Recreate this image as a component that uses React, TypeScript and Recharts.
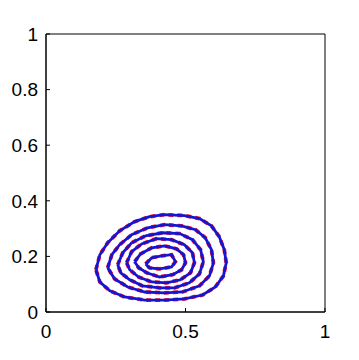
import React from "react";
import {
  ComposedChart,
  Line,
  XAxis,
  YAxis,
  ReferenceArea,
} from "recharts";

type Pt = { x: number; y: number };

// contour rings, outermost first
const ring1: Pt[] = [
  { x: 0.179, y: 0.152 }, { x: 0.193, y: 0.206 }, { x: 0.221, y: 0.249 },
  { x: 0.264, y: 0.292 }, { x: 0.318, y: 0.325 }, { x: 0.371, y: 0.343 },
  { x: 0.425, y: 0.35 }, { x: 0.496, y: 0.347 }, { x: 0.55, y: 0.336 },
  { x: 0.593, y: 0.31 }, { x: 0.621, y: 0.271 }, { x: 0.639, y: 0.224 },
  { x: 0.646, y: 0.177 }, { x: 0.636, y: 0.13 }, { x: 0.607, y: 0.09 },
  { x: 0.561, y: 0.061 }, { x: 0.496, y: 0.047 }, { x: 0.425, y: 0.043 },
  { x: 0.354, y: 0.043 }, { x: 0.282, y: 0.054 }, { x: 0.229, y: 0.076 },
  { x: 0.193, y: 0.108 }, { x: 0.179, y: 0.152 },
];

const ring2: Pt[] = [
  { x: 0.221, y: 0.159 }, { x: 0.236, y: 0.206 }, { x: 0.264, y: 0.242 },
  { x: 0.307, y: 0.278 }, { x: 0.364, y: 0.303 }, { x: 0.425, y: 0.314 },
  { x: 0.486, y: 0.31 }, { x: 0.536, y: 0.296 }, { x: 0.571, y: 0.267 },
  { x: 0.593, y: 0.224 }, { x: 0.6, y: 0.177 }, { x: 0.586, y: 0.13 },
  { x: 0.55, y: 0.094 }, { x: 0.489, y: 0.072 }, { x: 0.425, y: 0.069 },
  { x: 0.354, y: 0.072 }, { x: 0.293, y: 0.09 }, { x: 0.246, y: 0.119 },
  { x: 0.221, y: 0.159 },
];

const ring3: Pt[] = [
  { x: 0.257, y: 0.17 }, { x: 0.275, y: 0.213 }, { x: 0.307, y: 0.249 },
  { x: 0.357, y: 0.274 }, { x: 0.418, y: 0.285 }, { x: 0.479, y: 0.282 },
  { x: 0.525, y: 0.26 }, { x: 0.554, y: 0.224 }, { x: 0.564, y: 0.181 },
  { x: 0.55, y: 0.137 }, { x: 0.514, y: 0.105 }, { x: 0.461, y: 0.087 },
  { x: 0.407, y: 0.087 }, { x: 0.346, y: 0.094 }, { x: 0.3, y: 0.116 },
  { x: 0.268, y: 0.141 }, { x: 0.257, y: 0.17 },
];

const ring4: Pt[] = [
  { x: 0.289, y: 0.177 }, { x: 0.307, y: 0.217 }, { x: 0.343, y: 0.245 },
  { x: 0.396, y: 0.264 }, { x: 0.45, y: 0.26 }, { x: 0.496, y: 0.242 },
  { x: 0.525, y: 0.213 }, { x: 0.532, y: 0.177 }, { x: 0.518, y: 0.141 },
  { x: 0.482, y: 0.116 }, { x: 0.432, y: 0.105 }, { x: 0.379, y: 0.108 },
  { x: 0.332, y: 0.126 }, { x: 0.3, y: 0.152 }, { x: 0.289, y: 0.177 },
];

const ring5: Pt[] = [
  { x: 0.318, y: 0.181 }, { x: 0.339, y: 0.209 }, { x: 0.379, y: 0.231 },
  { x: 0.425, y: 0.238 }, { x: 0.468, y: 0.227 }, { x: 0.493, y: 0.206 },
  { x: 0.5, y: 0.177 }, { x: 0.486, y: 0.152 }, { x: 0.454, y: 0.134 },
  { x: 0.407, y: 0.126 }, { x: 0.361, y: 0.141 }, { x: 0.332, y: 0.159 },
  { x: 0.318, y: 0.181 },
];

const ring6: Pt[] = [
  { x: 0.357, y: 0.173 }, { x: 0.379, y: 0.195 }, { x: 0.414, y: 0.202 },
  { x: 0.45, y: 0.206 }, { x: 0.464, y: 0.181 }, { x: 0.45, y: 0.162 },
  { x: 0.407, y: 0.155 }, { x: 0.371, y: 0.159 }, { x: 0.357, y: 0.173 },
];

const rings = [ring1, ring2, ring3, ring4, ring5, ring6];

const xTicks = [0, 0.5, 1];
const yTicks = [0, 0.2, 0.4, 0.6, 0.8, 1];

const BLUE = "#1414d2";
const RED = "#ff1010";
const FONT = "'Liberation Sans', Arial, sans-serif";

// MATLAB style: ticks point into the plot
const XTick = (props: any) => {
  const { x, y, payload } = props;
  const axisY = y - 13;
  return (
    <g>
      <line x1={x} y1={axisY} x2={x} y2={axisY - 4} stroke="#000" />
      <text
        x={x}
        y={y}
        dy="0.71em"
        textAnchor="middle"
        fill="#000"
        fontSize={19}
        fontFamily={FONT}
      >
        {payload.value}
      </text>
    </g>
  );
};

const YTick = (props: any) => {
  const { x, y, payload } = props;
  const axisX = x + 8;
  return (
    <g>
      <line x1={axisX} y1={y} x2={axisX + 4} y2={y} stroke="#000" />
      <text
        x={x}
        y={y}
        dy="0.355em"
        textAnchor="end"
        fill="#000"
        fontSize={19}
        fontFamily={FONT}
      >
        {payload.value}
      </text>
    </g>
  );
};

export default function App() {
  return (
    <ComposedChart
      width={351}
      height={352}
      margin={{ top: 26, right: 34, bottom: 8, left: 0 }}
    >
      <XAxis
        type="number"
        dataKey="x"
        domain={[0, 1]}
        ticks={xTicks}
        allowDataOverflow
        height={40}
        tickSize={0}
        tickMargin={13}
        tickLine={false}
        axisLine={{ stroke: "#000" }}
        tick={<XTick />}
      />
      <YAxis
        type="number"
        dataKey="y"
        domain={[0, 1]}
        ticks={yTicks}
        allowDataOverflow
        width={38}
        tickSize={0}
        tickMargin={8}
        tickLine={false}
        axisLine={{ stroke: "#000" }}
        tick={<YTick />}
      />
      <ReferenceArea
        x1={0}
        x2={1}
        y1={0}
        y2={1}
        fill="none"
        fillOpacity={0}
        stroke="#000"
        strokeWidth={1}
      />
      {/* red dashed contours sit under the blue ones */}
      {rings.map((r, i) => (
        <Line
          key={`red-${i}`}
          data={r}
          dataKey="y"
          type="linear"
          stroke={RED}
          strokeWidth={3.8}
          strokeDasharray="5 4"
          dot={false}
          activeDot={false}
          isAnimationActive={false}
        />
      ))}
      {rings.map((r, i) => (
        <Line
          key={`blue-${i}`}
          data={r}
          dataKey="y"
          type="linear"
          stroke={BLUE}
          strokeWidth={2.8}
          dot={false}
          activeDot={false}
          isAnimationActive={false}
        />
      ))}
    </ComposedChart>
  );
}
